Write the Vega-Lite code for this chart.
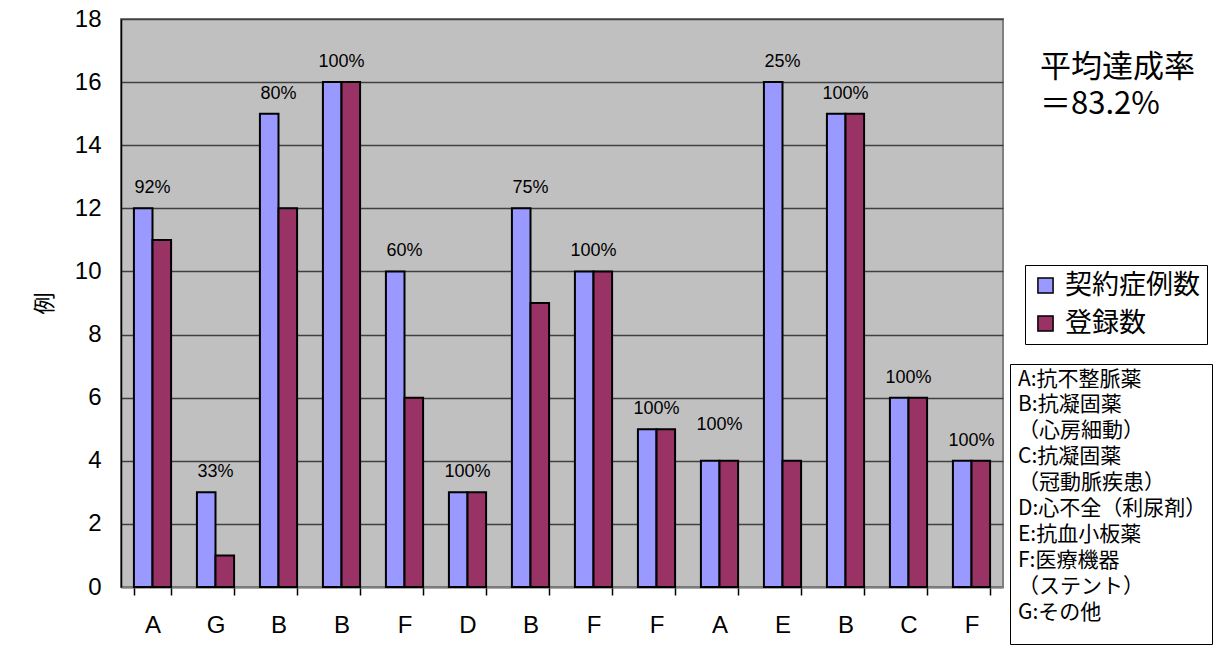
{
  "$schema": "https://vega.github.io/schema/vega-lite/v6.json",
  "width": 882,
  "height": 568,
  "autosize": {"type": "none"},
  "padding": {"left": 121, "top": 19, "right": 213, "bottom": 74},
  "background": "white",
  "view": {"fill": "#C0C0C0", "stroke": "#808080", "strokeWidth": 2},
  "config": {
    "view": {"fill": "#C0C0C0", "stroke": "#808080", "strokeWidth": 2},
    "font": "Liberation Sans"
  },
  "title": {
    "text": ["平均達成率", "＝83.2%"],
    "orient": "top",
    "anchor": "start",
    "frame": "group",
    "offset": 0,
    "dx": 919,
    "dy": 114,
    "baseline": "top",
    "align": "left",
    "font": "Noto Sans CJK JP",
    "fontSize": 31,
    "fontWeight": "normal",
    "lineHeight": 37,
    "color": "black"
  },
  "datasets": {
    "bars": [
      {"slot": "A_1", "series": "契約症例数", "value": 12},
      {"slot": "A_1", "series": "登録数", "value": 11},
      {"slot": "G_2", "series": "契約症例数", "value": 3},
      {"slot": "G_2", "series": "登録数", "value": 1},
      {"slot": "B_3", "series": "契約症例数", "value": 15},
      {"slot": "B_3", "series": "登録数", "value": 12},
      {"slot": "B_4", "series": "契約症例数", "value": 16},
      {"slot": "B_4", "series": "登録数", "value": 16},
      {"slot": "F_5", "series": "契約症例数", "value": 10},
      {"slot": "F_5", "series": "登録数", "value": 6},
      {"slot": "D_6", "series": "契約症例数", "value": 3},
      {"slot": "D_6", "series": "登録数", "value": 3},
      {"slot": "B_7", "series": "契約症例数", "value": 12},
      {"slot": "B_7", "series": "登録数", "value": 9},
      {"slot": "F_8", "series": "契約症例数", "value": 10},
      {"slot": "F_8", "series": "登録数", "value": 10},
      {"slot": "F_9", "series": "契約症例数", "value": 5},
      {"slot": "F_9", "series": "登録数", "value": 5},
      {"slot": "A_10", "series": "契約症例数", "value": 4},
      {"slot": "A_10", "series": "登録数", "value": 4},
      {"slot": "E_11", "series": "契約症例数", "value": 16},
      {"slot": "E_11", "series": "登録数", "value": 4},
      {"slot": "B_12", "series": "契約症例数", "value": 15},
      {"slot": "B_12", "series": "登録数", "value": 15},
      {"slot": "C_13", "series": "契約症例数", "value": 6},
      {"slot": "C_13", "series": "登録数", "value": 6},
      {"slot": "F_14", "series": "契約症例数", "value": 4},
      {"slot": "F_14", "series": "登録数", "value": 4}
    ],
    "rates": [
      {"slot": "A_1", "top": 12, "rate": "92%"},
      {"slot": "G_2", "top": 3, "rate": "33%"},
      {"slot": "B_3", "top": 15, "rate": "80%"},
      {"slot": "B_4", "top": 16, "rate": "100%"},
      {"slot": "F_5", "top": 10, "rate": "60%"},
      {"slot": "D_6", "top": 3, "rate": "100%"},
      {"slot": "B_7", "top": 12, "rate": "75%"},
      {"slot": "F_8", "top": 10, "rate": "100%"},
      {"slot": "F_9", "top": 5, "rate": "100%"},
      {"slot": "A_10", "top": 4.5, "rate": "100%"},
      {"slot": "E_11", "top": 16, "rate": "25%"},
      {"slot": "B_12", "top": 15, "rate": "100%"},
      {"slot": "C_13", "top": 6, "rate": "100%"},
      {"slot": "F_14", "top": 4, "rate": "100%"}
    ],
    "notes": [
      {"note": "A:抗不整脈薬"},
      {"note": "B:抗凝固薬"},
      {"note": "（心房細動）"},
      {"note": "C:抗凝固薬"},
      {"note": "（冠動脈疾患）"},
      {"note": "D:心不全（利尿剤）"},
      {"note": "E:抗血小板薬"},
      {"note": "F:医療機器"},
      {"note": "（ステント）"},
      {"note": "G:その他"}
    ]
  },
  "layer": [
    {
      "data": {"name": "bars"},
      "mark": {"type": "bar", "stroke": "black", "strokeWidth": 2},
      "encoding": {
        "x": {
          "field": "slot",
          "type": "ordinal",
          "sort": null,
          "scale": {"paddingInner": 0.41, "paddingOuter": 0.205},
          "axis": {
            "orient": "bottom",
            "title": null,
            "labelExpr": "datum.value ? split(datum.value, '_')[0] : ''",
            "labelAngle": 0,
            "labelFontSize": 24,
            "labelColor": "black",
            "labelPadding": 18,
            "grid": false,
            "ticks": true,
            "tickBand": "extent",
            "tickSize": 8,
            "tickColor": "black",
            "tickWidth": 1.5,
            "tickOpacity": 1,
            "domainColor": "#808080",
            "domainWidth": 2
          }
        },
        "xOffset": {"field": "series", "type": "nominal", "sort": ["契約症例数", "登録数"], "scale": {"paddingInner": 0, "paddingOuter": 0}},
        "y": {
          "field": "value",
          "type": "quantitative",
          "scale": {"domain": [0, 18], "nice": false},
          "axis": {
            "title": "例",
            "titleFont": "Noto Sans CJK JP",
            "titleFontSize": 22,
            "titleFontWeight": "normal",
            "titleColor": "black",
            "titlePadding": 18,
            "values": [0, 2, 4, 6, 8, 10, 12, 14, 16, 18],
            "labelFontSize": 24,
            "labelColor": "black",
            "labelPadding": 20,
            "tickSize": 0,
            "domainColor": "black",
            "domainWidth": 1.5,
            "gridColor": "#404040",
            "gridWidth": 1.5,
            "gridOpacity": 1
          }
        },
        "color": {
          "field": "series",
          "type": "nominal",
          "sort": ["契約症例数", "登録数"],
          "scale": {"domain": ["契約症例数", "登録数"], "range": ["#9999FF", "#993366"]},
          "legend": {
            "title": null,
            "orient": "none",
            "legendX": 904,
            "legendY": 246,
            "labelFont": "Noto Sans CJK JP",
            "labelFontSize": 27,
            "labelColor": "black",
            "labelOffset": 6,
            "symbolType": "square",
            "symbolSize": 230,
            "symbolStrokeColor": "black",
            "symbolStrokeWidth": 1.5,
            "rowPadding": 10,
            "padding": 7,
            "strokeColor": "black",
            "fillColor": "white"
          }
        }
      }
    },
    {
      "data": {"name": "rates"},
      "mark": {"type": "text", "baseline": "bottom", "dy": -11, "fontSize": 18, "color": "black", "font": "Liberation Sans"},
      "encoding": {
        "x": {"field": "slot", "type": "ordinal", "sort": null},
        "y": {"field": "top", "type": "quantitative"},
        "text": {"field": "rate"}
      }
    },
    {
      "data": {"name": "notes"},
      "mark": {"type": "point", "opacity": 0},
      "encoding": {
        "shape": {
          "field": "note",
          "type": "nominal",
          "sort": null,
          "legend": {
            "title": " ",
            "titleOrient": "bottom",
            "titleFontSize": 14,
            "titlePadding": 2,
            "orient": "none",
            "legendX": 889,
            "legendY": 345,
            "labelFont": "Noto Sans CJK JP",
            "labelFontSize": 21,
            "labelColor": "black",
            "labelLimit": 400,
            "labelOffset": -18,
            "symbolSize": 0,
            "symbolOpacity": 0,
            "symbolStrokeWidth": 0,
            "rowPadding": 3.9,
            "padding": 5,
            "strokeColor": "black",
            "fillColor": "white"
          }
        }
      }
    }
  ]
}
